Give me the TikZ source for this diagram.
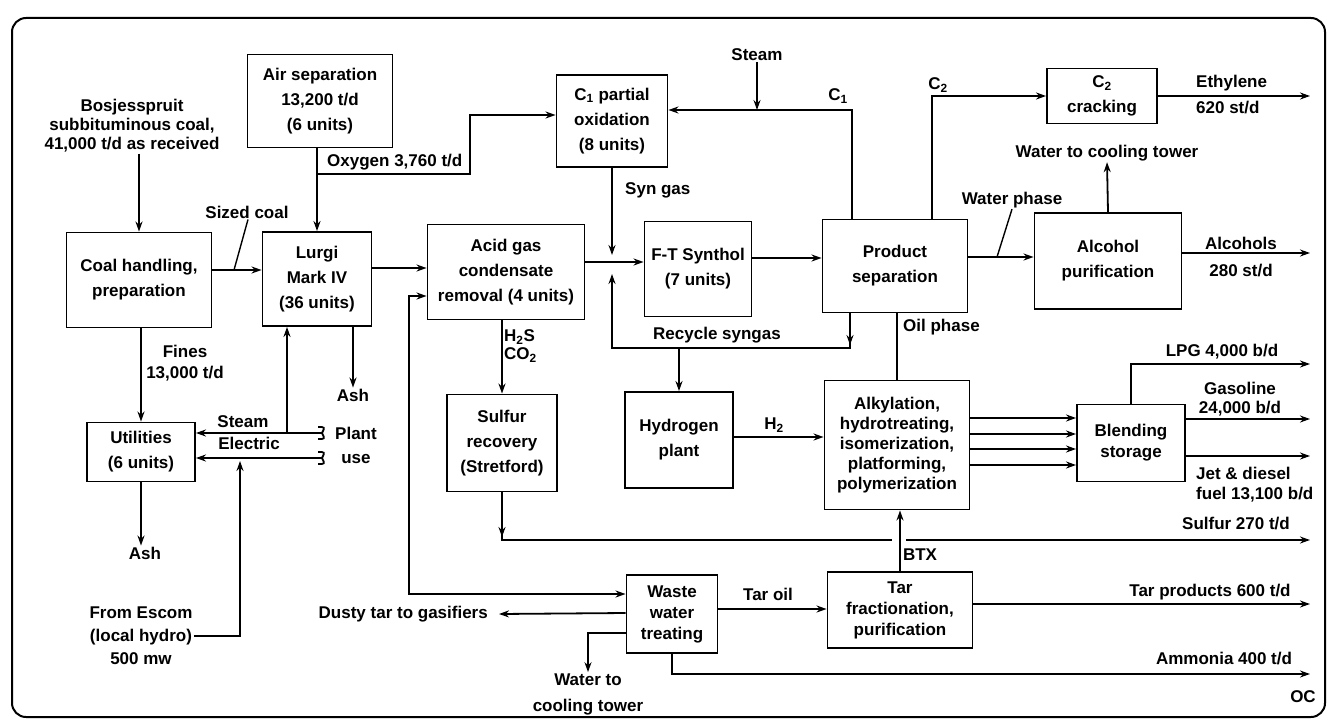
\documentclass[tikz,border=0pt]{standalone}
\usepackage{fontspec}
\setmainfont{Liberation Sans}
\usetikzlibrary{arrows.meta, calc}
\tikzset{
  unitbox/.style={
    draw, line width=1.9pt,
    align=center, inner sep=1pt,
    font=\fontsize{17}{25}\selectfont\bfseries,
  },
  tightbox/.style={font=\fontsize{17}{21}\selectfont\bfseries},
  lbl/.style={
    align=center, inner sep=1pt,
    font=\fontsize{17}{21}\selectfont\bfseries,
  },
  flow/.style={-{Stealth[length=10pt,width=7pt]}, line width=1.8pt},
  flowboth/.style={{Stealth[length=10pt,width=7pt]}-{Stealth[length=10pt,width=7pt]}, line width=1.8pt},
  pipe/.style={line width=1.8pt},
  leader/.style={line width=1.4pt},
}
\begin{document}
\begin{tikzpicture}[x=1pt, y=-1pt]
  \useasboundingbox (0,0) rectangle (1329,725);

  % Frame
  \draw[pipe, line width=2pt, rounded corners=14pt] (12,18) rectangle (1325,717);

  % Process units
  \node[unitbox, minimum width=145pt, minimum height=93pt] (air) at (320,101)
    {Air separation\\13,200 t/d\\(6 units)};
  \node[unitbox, minimum width=145pt, minimum height=95pt] (coal) at (139,280)
    {Coal handling,\\preparation};
  \node[unitbox, minimum width=109pt, minimum height=94pt] (lurgi) at (317,279)
    {Lurgi\\Mark IV\\(36 units)};
  \node[unitbox, minimum width=111pt, minimum height=92pt] (cpox) at (612,121)
    {C\textsubscript{1} partial\\oxidation\\(8 units)};
  \node[unitbox, minimum width=157pt, minimum height=95pt] (acid) at (506,272)
    {Acid gas\\condensate\\removal (4 units)};
  \node[unitbox, minimum width=107pt, minimum height=95pt] (ft) at (698,269)
    {F-T Synthol\\(7 units)};
  \node[unitbox, minimum width=145pt, minimum height=93pt] (prod) at (895,266)
    {Product\\separation};
  \node[unitbox, minimum width=110pt, minimum height=55pt] (c2crack) at (1102,96)
    {C\textsubscript{2}\\cracking};
  \node[unitbox, minimum width=147pt, minimum height=96pt] (alcohol) at (1108,261)
    {Alcohol\\purification};
  \node[unitbox, minimum width=108pt, minimum height=59pt] (util) at (141,452)
    {Utilities\\(6 units)};
  \node[unitbox, minimum width=110pt, minimum height=97pt] (sulf) at (502,443)
    {Sulfur\\recovery\\(Stretford)};
  \node[unitbox, minimum width=108pt, minimum height=96pt] (hyd) at (679,440)
    {Hydrogen\\plant};
  \node[unitbox, minimum width=145pt, minimum height=129pt,
        font=\fontsize{17}{20}\selectfont\bfseries] (alky) at (897,445)
    {Alkylation,\\hydrotreating,\\isomerization,\\platforming,\\polymerization};
  \node[unitbox, tightbox, minimum width=108pt, minimum height=77pt] (blend) at (1131,443)
    {Blending\\storage};
  \node[unitbox, tightbox, minimum width=91pt, minimum height=78pt] (waste) at (672,614)
    {Waste\\water\\treating};
  \node[unitbox, tightbox, minimum width=145pt, minimum height=76pt] (tar) at (900,610)
    {Tar\\fractionation,\\purification};

  % Stream labels
  \node[lbl, font=\fontsize{17}{19}\selectfont\bfseries] (coalfeed) at (132,126)
    {Bosjesspruit\\subbituminous coal,\\41,000 t/d as received};
  \node[lbl] (sizedlbl) at (247,212) {Sized coal};
  \node[lbl, anchor=west] (oxylbl) at (326,162) {Oxygen 3,760 t/d};
  \node[lbl] (steamtop) at (757,55) {Steam};
  \node[lbl] (c1lbl) at (838,96) {C\textsubscript{1}};
  \node[lbl, anchor=west] (synlbl) at (624,190) {Syn gas};
  \node[lbl] (c2lbl) at (938,85) {C\textsubscript{2}};
  \node[lbl, align=left, anchor=west, font=\fontsize{17}{26}\selectfont\bfseries] (ethlbl) at (1195,95)
    {Ethylene\\620 st/d};
  \node[lbl] (wctop) at (1107,153) {Water to cooling tower};
  \node[lbl] (wphase) at (1012,200) {Water phase};
  \node[lbl, font=\fontsize{17}{27}\selectfont\bfseries] (alclbl) at (1241,257)
    {Alcohols\\280 st/d};
  \node[lbl] (fineslbl) at (185,363) {Fines\\13,000 t/d};
  \node[lbl] (ashA) at (353,395) {Ash};
  \node[lbl] (steamlbl) at (243,422) {Steam};
  \node[lbl] (eleclbl) at (249,443) {Electric};
  \node[lbl, font=\fontsize{17}{24}\selectfont\bfseries] (plantuse) at (356,445)
    {Plant\\use};
  \node[lbl] (ashB) at (145,553) {Ash};
  \node[lbl, font=\fontsize{17}{23}\selectfont\bfseries] (escom) at (141,636)
    {From Escom\\(local hydro)\\500 mw};
  \node[lbl, align=left, anchor=west, font=\fontsize{17}{18}\selectfont\bfseries] (h2slbl) at (503,346)
    {H\textsubscript{2}S\\CO\textsubscript{2}};
  \node[lbl] (recyclbl) at (717,335) {Recycle syngas};
  \node[lbl, anchor=west] (oillbl) at (902,327) {Oil phase};
  \node[lbl] (h2lbl) at (774,425) {H\textsubscript{2}};
  \node[lbl] (lpglbl) at (1222,352) {LPG 4,000 b/d};
  \node[lbl, font=\fontsize{17}{19}\selectfont\bfseries] (gaslbl) at (1240,399)
    {Gasoline\\24,000 b/d};
  \node[lbl, align=left, anchor=west, font=\fontsize{17}{20}\selectfont\bfseries] (jetlbl) at (1195,485)
    {Jet \& diesel\\fuel 13,100 b/d};
  \node[lbl] (sulflbl) at (1236,524) {Sulfur 270 t/d};
  \node[lbl] (btxlbl) at (920,555) {BTX};
  \node[lbl, anchor=east] (dusty) at (489,614) {Dusty tar to gasifiers};
  \node[lbl] (taroil) at (768,594) {Tar oil};
  \node[lbl, font=\fontsize{17}{26}\selectfont\bfseries] (wcbot) at (588,694)
    {Water to\\cooling tower};
  \node[lbl] (tarprod) at (1210,592) {Tar products 600 t/d};
  \node[lbl] (ammlbl) at (1224,659) {Ammonia 400 t/d};
  \node[lbl] (oc) at (1303,697) {OC};

  % Junctions and free ends
  \coordinate (oxj) at (317,174);
  \coordinate (c1c) at (852,110);
  \coordinate (c2c) at (932,96);
  \coordinate (rcr) at (850,348);
  \coordinate (rcl) at (612,348);
  \coordinate (sulfc) at (502,540);
  \coordinate (gapL) at (892,540);
  \coordinate (gapR) at (906,540);
  \coordinate (pu1) at (322,433);
  \coordinate (pu2) at (322,458);
  \coordinate (stj) at (287,433);
  \coordinate (acl) at (409,296);
  \coordinate (wwl) at (409,594);

  % Coal feed and gasification
  \draw[flow] (coal.north |- coalfeed.south) -- (coal.north);
  \draw[flow] (coal.east |- 0,270) -- (lurgi.west |- 0,270);
  \draw[leader] ([xshift=1pt]sizedlbl.south) -- (234,270);
  \draw[flow] (lurgi.north |- air.south) -- (lurgi.north);
  \draw[flow] (oxj) -- (470,174) |- (cpox.west |- 0,115);
  \draw[flow] (lurgi.east |- 0,268) -- (acid.west |- 0,268);
  \draw[flow] (ashA.north |- lurgi.south) -- (ashA.north);

  % Synthesis loop
  \draw[flow] (cpox.south) -- (612,255);
  \draw[flow] (acid.east |- 0,262) -- (ft.west |- 0,262);
  \draw[flow] (ft.east |- 0,258) -- (prod.west |- 0,258);
  \draw[flow] (prod.north -| c1c) |- (cpox.east |- c1c);
  \draw[flow] (steamtop.south) -- (steamtop.south |- c1c);
  \draw[flow] (prod.south -| rcr) -- ([yshift=3pt]rcr);
  \draw[flow] (prod.south -| rcr) |- (rcl) -- (612,274);
  \draw[flow] (hyd.north |- rcl) -- (hyd.north);
  \draw[flow] (hyd.east |- 0,437) -- (alky.west |- 0,437);
  \draw[pipe] (alky.north |- prod.south) -- (alky.north);

  % Light products
  \draw[flow] (prod.north -| c2c) |- (c2crack.west);
  \draw[flow] (c2crack.east) -- (1310,96);
  \draw[flow] (prod.east |- 0,257) -- (alcohol.west |- 0,257);
  \draw[leader] (wphase.south) -- (997,257);
  \draw[flow] (alcohol.north) -- (wctop.south);
  \draw[flow] (alcohol.east |- 0,253) -- (1310,253);

  % Refining and blending
  \foreach \yy in {418,434,449,465}
    \draw[flow] (alky.east |- 0,\yy) -- (blend.west |- 0,\yy);
  \draw[flow] (blend.north) |- (1310,364);
  \draw[flow] (blend.east |- 0,419) -- (1310,419);
  \draw[flow] (blend.east |- 0,456) -- (1310,456);

  % Sulfur
  \draw[flow] (sulf.north |- acid.south) -- (sulf.north);
  \draw[flow] (sulf.south) -- ([yshift=3pt]sulfc);
  \draw[pipe] (sulf.south) |- (gapL);
  \draw[flow] (gapR) -- (1310,540);

  % Water and tar
  \draw[flowboth] (acid.west |- acl) -- (acl) -- (wwl) -- (waste.west |- wwl);
  \draw[flow] (waste.west |- 0,613) -- ([xshift=10pt]dusty.east);
  \draw[flow] (waste.west |- 0,633) -| (wcbot.north);
  \draw[flow] (waste.east |- 0,609) -- (tar.west |- 0,609);
  \draw[flow] (tar.north) -- (tar.north |- alky.south);
  \draw[flow] (tar.east |- 0,604) -- (1310,604);
  \draw[flow] (waste.south) |- (1310,674);

  % Utilities
  \draw[flow] (util.north |- coal.south) -- (util.north);
  \draw[flow] (util.south) -- (util.south |- ashB.north);
  \draw[flow] (pu1) -- (util.east |- pu1);
  \draw[flow] (pu2) -- (util.east |- pu2);
  \draw[flow] (stj) -- (stj |- lurgi.south);
  \draw[flow] (escom.east) -| (240,461);
  \foreach \pp in {pu1,pu2}
    \draw[pipe] ($(\pp)+(-4,-6)$) .. controls ($(\pp)+(3,-6)$) .. (\pp)
      .. controls ($(\pp)+(3,6)$) .. ($(\pp)+(-4,6)$);

\end{tikzpicture}
\end{document}
